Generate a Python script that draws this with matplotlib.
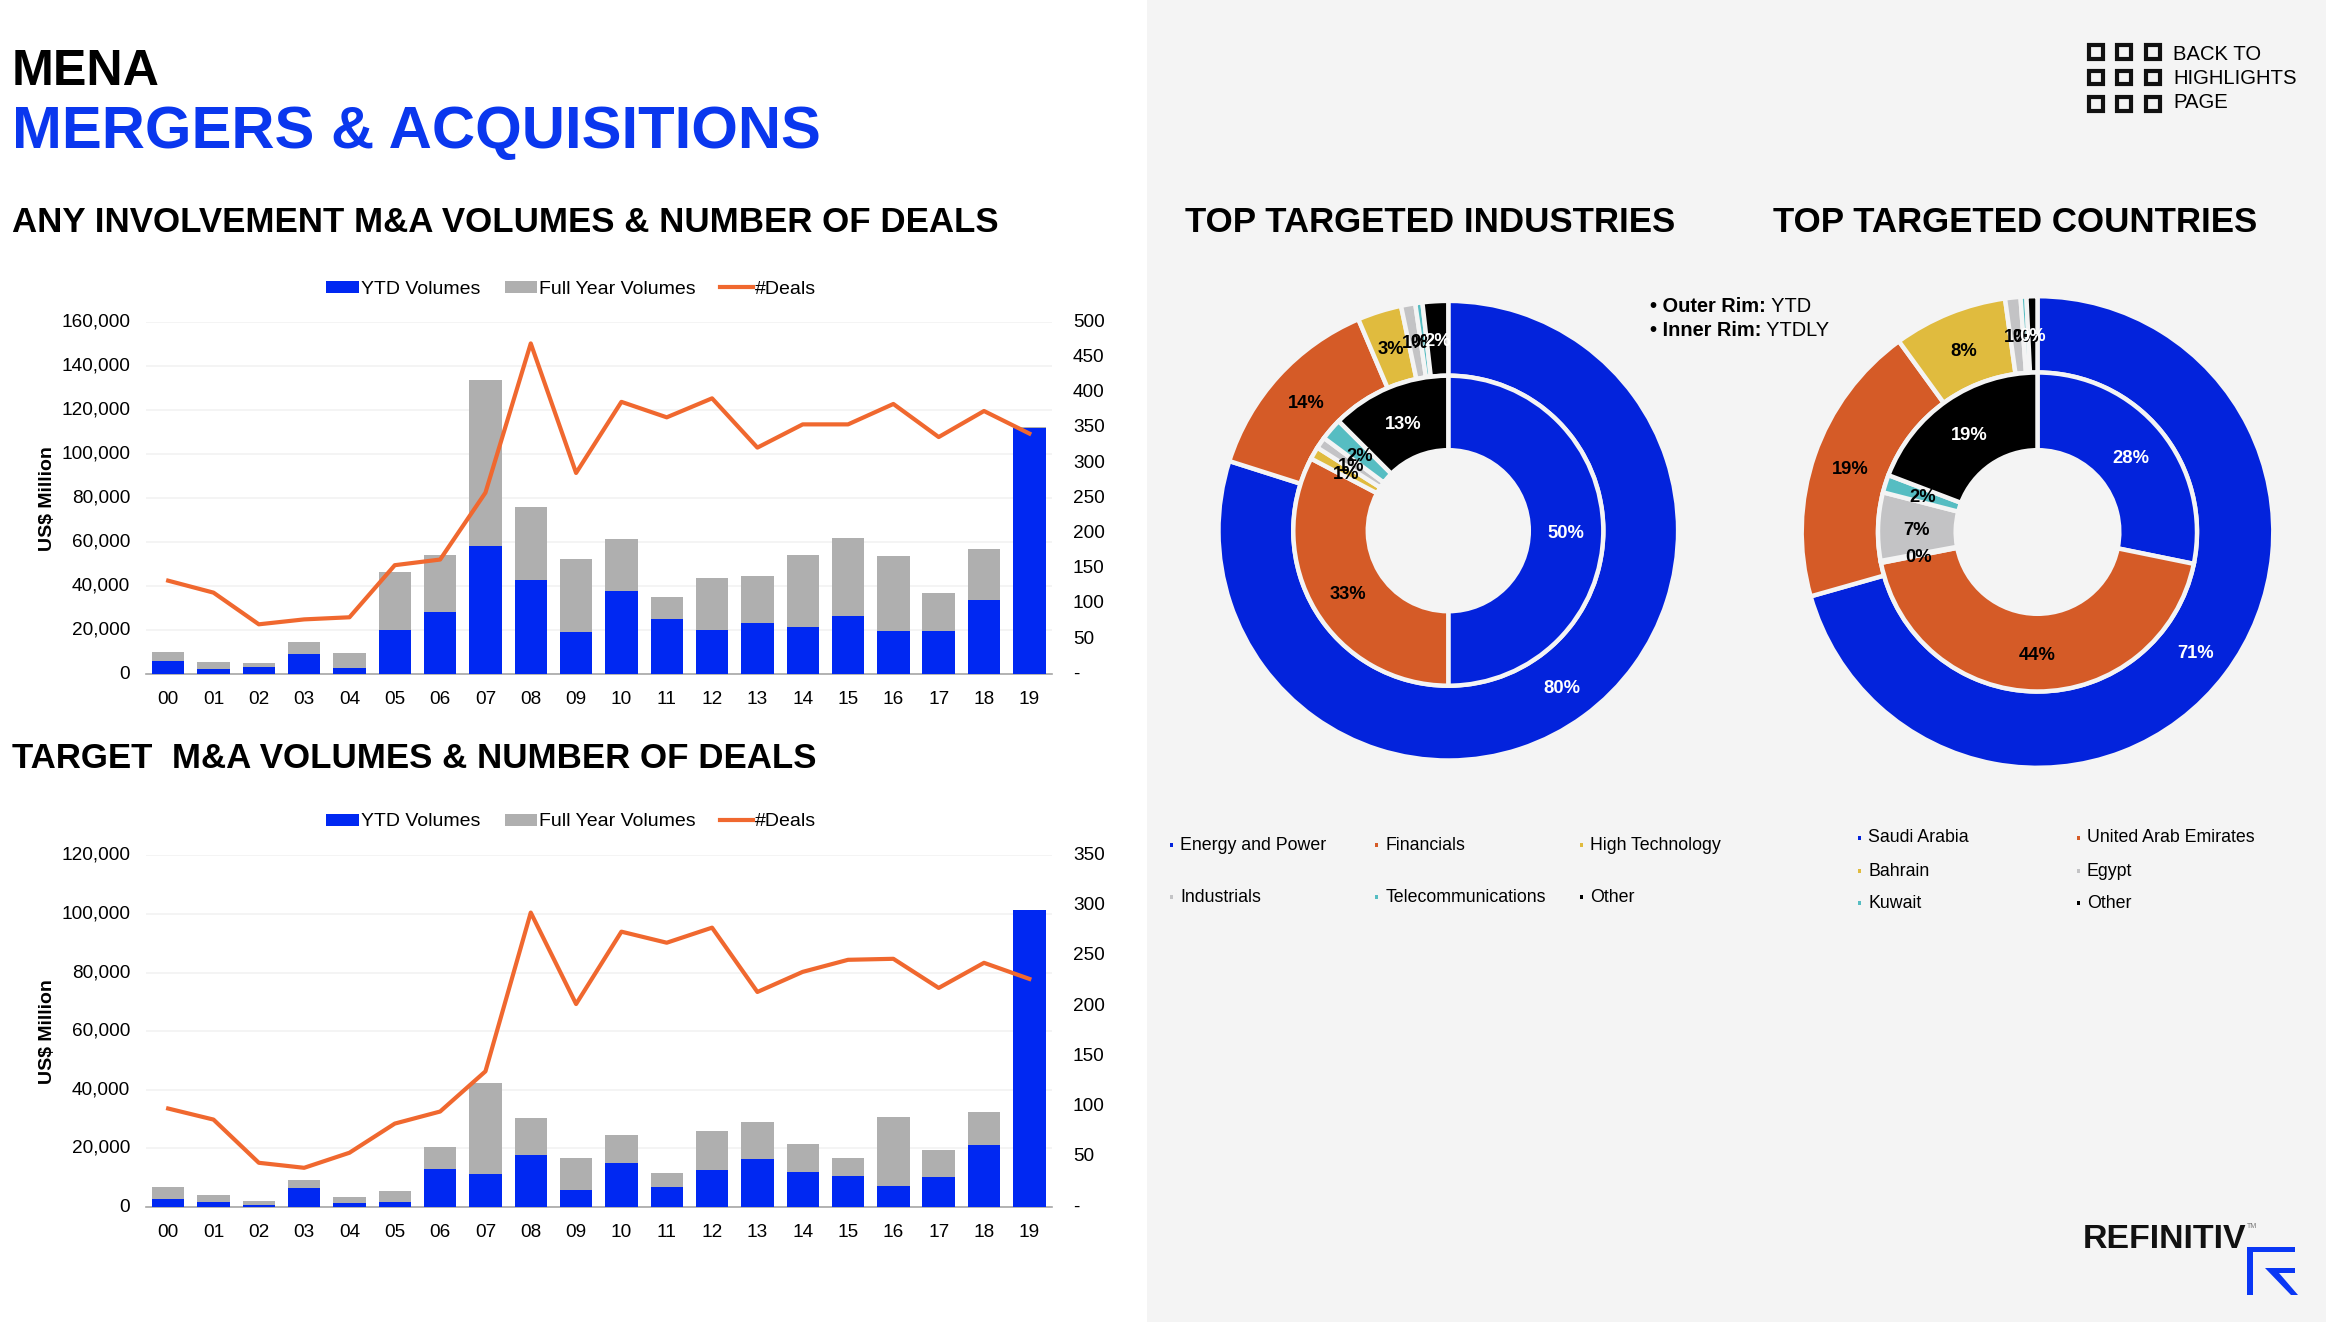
import math

import matplotlib

matplotlib.use("Agg")
import matplotlib.pyplot as plt
from matplotlib.patches import Polygon, Rectangle
from matplotlib.ticker import FuncFormatter

W, H = 2326, 1322
BG = "#F4F4F4"
BLUE = "#0028F2"
GRAY = "#AFAFAF"
LINE = "#F0682F"
P_COLORS = ["#0323DC", "#D55B27", "#E0BB3E", "#C3C3C5", "#56BDC2", "#000000"]

plt.rcParams["font.family"] = ["Liberation Sans", "DejaVu Sans"]

years = ["00", "01", "02", "03", "04", "05", "06", "07", "08", "09",
         "10", "11", "12", "13", "14", "15", "16", "17", "18", "19"]

# Any involvement
any_ytd = [6000, 2400, 3300, 9200, 2900, 20100, 28300, 58500, 42900, 19100,
           37900, 25000, 20100, 23300, 21700, 26500, 19500, 19500, 33600, 112100]
any_full = [10000, 5800, 5200, 14700, 9500, 46400, 54200, 134000, 75900, 52300,
            61400, 35300, 43900, 44500, 54200, 62000, 53800, 37100, 57000, 112200]
any_deals = [133, 116, 71, 78, 81, 155, 163, 258, 470, 286,
             387, 365, 392, 322, 355, 355, 384, 337, 374, 342]

# Target
tgt_ytd = [2800, 1700, 600, 6500, 1250, 1700, 13000, 11400, 17700, 5700,
           15000, 6900, 12600, 16300, 11800, 10600, 7300, 10200, 21100, 101200]
tgt_full = [6700, 4100, 2200, 9100, 3400, 5300, 20500, 42400, 30200, 16700,
            24400, 11500, 25800, 29000, 21600, 16700, 30600, 19300, 32300, 101200]
tgt_deals = [98, 87, 44, 39, 54, 83, 95, 135, 293, 202,
             274, 263, 278, 214, 234, 246, 247, 218, 243, 227]

# Donuts
ind_outer = [79.9, 13.7, 3.1, 1.0, 0.5, 1.8]
ind_outer_labels = ["80%", "14%", "3%", "1%", "0%", "2%"]
ind_inner = [50.0, 32.7, 1.3, 1.2, 2.3, 12.5]
ind_inner_labels = ["50%", "33%", "1%", "1%", "2%", "13%"]
ctry_outer = [70.6, 19.4, 7.8, 1.05, 0.4, 0.75]
ctry_outer_labels = ["71%", "19%", "8%", "1%", "0%", "0%"]
ctry_inner = [28.2, 43.7, 0.2, 6.9, 1.8, 19.2]
ctry_inner_labels = ["28%", "44%", "0%", "7%", "2%", "19%"]

ind_names = ["Energy and Power", "Financials", "High Technology",
             "Industrials", "Telecommunications", "Other"]
ctry_names = ["Saudi Arabia", "United Arab Emirates", "Bahrain",
              "Egypt", "Kuwait", "Other"]

fig = plt.figure(figsize=(W / 100, H / 100), dpi=100, facecolor="white")

# calque en pixels pour le fond, les titres et les decorations
top = fig.add_axes([0, 0, 1, 1])
top.set_xlim(0, W)
top.set_ylim(H, 0)
top.axis("off")
top.add_patch(Rectangle((1147, 0), W - 1147, H, color=BG, lw=0))


def px_axes(x0, y0, x1, y1):
    return fig.add_axes([x0 / W, 1 - y1 / H, (x1 - x0) / W, (y1 - y0) / H])


def combo(y_top, y_bot, ytd, full, deals, ymax, ystep, dmax, dstep, leg_y):
    ax = px_axes(145.5, y_top, 1052, y_bot)
    ax.patch.set_alpha(0)
    x = range(len(years))
    b1 = ax.bar(x, full, width=0.715, color=GRAY, zorder=2)
    b2 = ax.bar(x, ytd, width=0.715, color=BLUE, zorder=3)
    ax.set_xlim(-0.5, 19.5)
    ax.set_ylim(0, ymax)
    ax.set_yticks(range(0, ymax + 1, ystep))
    ax.yaxis.set_major_formatter(FuncFormatter(lambda v, p: f"{int(v):,}"))
    ax.set_xticks(list(x), years)
    ax.tick_params(axis="x", length=0, labelsize=13.7, pad=12)
    ax.tick_params(axis="y", length=0, labelsize=13.7, pad=11)
    plt.setp(ax.get_yticklabels(), va="center")
    ax.grid(axis="y", color="#F2F2F2", lw=1.2, zorder=0)
    ax.set_axisbelow(True)
    for s in ["top", "left", "right"]:
        ax.spines[s].set_visible(False)
    ax.spines["bottom"].set_color("#A6A6A6")
    ax.spines["bottom"].set_linewidth(1.2)
    ax.set_ylabel("US$ Million", fontsize=14, fontweight="bold")
    ax.yaxis.set_label_coords(-90 / 906.5, 0.5)

    ax2 = ax.twinx()
    ln, = ax2.plot(x, deals, color=LINE, lw=3.0, solid_joinstyle="round", zorder=5)
    ax2.set_ylim(0, dmax)
    ax2.set_yticks(range(0, dmax + 1, dstep))
    ax2.yaxis.set_major_formatter(FuncFormatter(lambda v, p: "-" if v == 0 else f"{int(v)}"))
    ax2.tick_params(axis="y", length=0, labelsize=13.7, pad=15)
    plt.setp(ax2.get_yticklabels(), va="center")
    for s in ax2.spines.values():
        s.set_visible(False)

    ax2.legend([b2, b1, ln], ["YTD Volumes", "Full Year Volumes", "#Deals"],
               ncols=3, loc="center", bbox_to_anchor=(571 / W, 1 - leg_y / H),
               bbox_transform=fig.transFigure, frameon=False, fontsize=14,
               handlelength=1.68, handleheight=0.58, handletextpad=0.1,
               columnspacing=1.25, borderpad=0)


def donut(cx, cy, outer, outer_labels, inner, inner_labels, r_out, r_mid, r_hole):
    half = 250
    ax = px_axes(cx - half, cy - half, cx + half, cy + half)
    ax.patch.set_alpha(0)
    for vals, labs, r, r_in in [(outer, outer_labels, r_out, r_mid),
                                (inner, inner_labels, r_mid, r_hole)]:
        wedges, _ = ax.pie(vals, colors=P_COLORS, radius=r, startangle=90,
                           counterclock=False,
                           wedgeprops=dict(width=r - r_in, edgecolor=BG, linewidth=3.2))
        rm = (r + r_in) / 2
        for i, (w, lab) in enumerate(zip(wedges, labs)):
            a = math.radians((w.theta1 + w.theta2) / 2)
            col = "white" if i in (0, 5) else "black"
            # le -2.5 : les etiquettes de la reference sont un peu plus bas
            ax.text(rm * math.cos(a), rm * math.sin(a) - 2.5, lab, ha="center", va="center",
                    fontsize=13.2, fontweight="bold", color=col, zorder=10)
    ax.set_xlim(-half, half)
    ax.set_ylim(-half, half)


combo(322.3, 674.3, any_ytd, any_full, any_deals, 160000, 20000, 500, 50, 289)
combo(855.3, 1207, tgt_ytd, tgt_full, tgt_deals, 120000, 20000, 350, 50, 822)

donut(1448.3, 530.7, ind_outer, ind_outer_labels, ind_inner, ind_inner_labels, 229.8, 155, 80.5)
donut(2037.5, 532, ctry_outer, ctry_outer_labels, ctry_inner, ctry_inner_labels, 235.8, 159.5, 81.8)

# Titres
top.text(12, 72, "MENA", fontsize=36.2, fontweight="bold", va="center")
top.text(12, 132, "MERGERS & ACQUISITIONS", fontsize=43.1, fontweight="bold",
         color="#0A37EE", va="center")
for x, y, s in [(12, 223, "ANY INVOLVEMENT M&A VOLUMES & NUMBER OF DEALS"),
                (12, 759, "TARGET  M&A VOLUMES & NUMBER OF DEALS"),
                (1185, 223, "TOP TARGETED INDUSTRIES"),
                (1773, 223, "TOP TARGETED COUNTRIES")]:
    top.text(x, y, s, fontsize=25.15, fontweight="bold", va="center")

# Outer / inner rim
for y, a, b in [(306, "• Outer Rim:", " YTD"), (330, "• Inner Rim:", " YTDLY")]:
    t = top.text(1650, y, a, fontsize=14.4, fontweight="bold", va="center")
    top.annotate(b, xy=(1, 0.5), xycoords=t, va="center", fontsize=14.4)

# Legendes des donuts
ind_pos = [(1171, 845), (1376.5, 845), (1581, 845), (1171, 897), (1376.5, 897), (1581, 897)]
ctry_pos = [(1859, 838), (2078, 838), (1859, 871), (2078, 871), (1859, 903), (2078, 903)]
for names, pos in [(ind_names, ind_pos), (ctry_names, ctry_pos)]:
    for name, (x, y), c in zip(names, pos, P_COLORS):
        top.add_patch(Rectangle((x - 1.5, y - 2), 3, 4, color=c, lw=0))
        top.text(x + 9, y, name, fontsize=12.8, va="center")

# Bouton retour
for sx in [2096, 2124, 2153]:
    for sy in [52, 77.5, 104]:
        top.add_patch(Rectangle((sx - 6.9, sy - 6.9), 13.8, 13.8, fill=False,
                                edgecolor="#111111", lw=3.0))
for y, s in [(55, "BACK TO"), (79, "HIGHLIGHTS"), (103, "PAGE")]:
    top.text(2173, y, s, fontsize=14.6, va="center")

# Logo
top.text(2083, 1239, "REFINITIV", fontsize=24.4, fontweight="bold", va="center", color="#111111")
top.text(2247, 1226, "TM", fontsize=5, va="center", color="#777777")
LOGO = "#0A37F5"
top.add_patch(Polygon([(2247, 1247), (2295, 1247), (2295, 1252), (2253, 1252),
                       (2253, 1295), (2247, 1295)], color=LOGO, lw=0))
top.add_patch(Polygon([(2265, 1268), (2295, 1268), (2295, 1273), (2279, 1273),
                       (2298, 1295), (2291, 1295)], color=LOGO, lw=0))

fig.savefig("out.png", dpi=100)
